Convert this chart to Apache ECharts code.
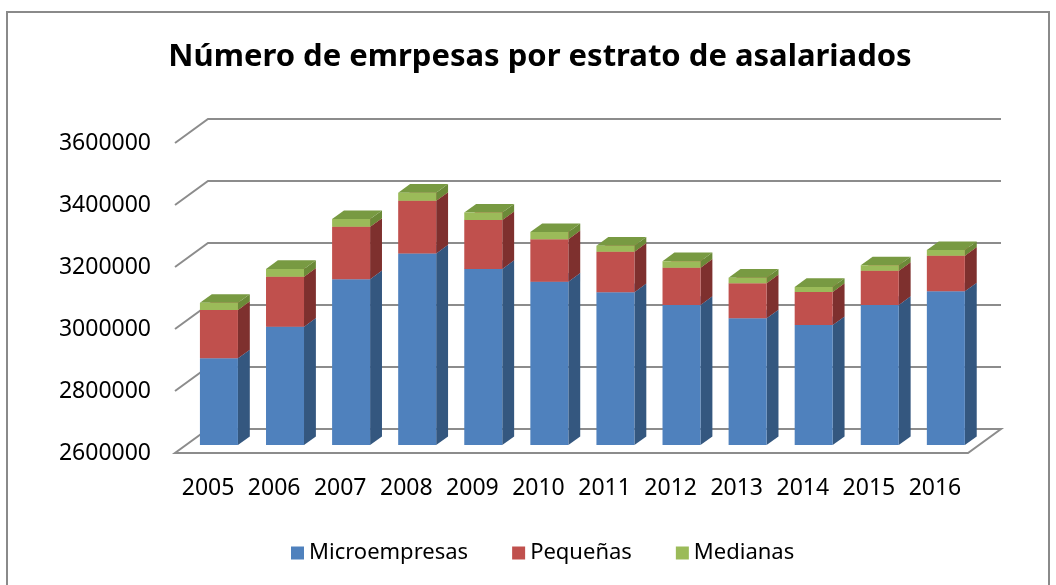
<!DOCTYPE html>
<html>
<head>
<meta charset="utf-8">
<script src="https://cdn.jsdelivr.net/npm/echarts@6/dist/echarts.min.js"></script>
<style>html,body{margin:0;padding:0;background:#fff;}#c{width:1056px;height:585px;}</style>
</head>
<body>
<div id="c"></div>
<script>
var categories = ['2005','2006','2007','2008','2009','2010','2011','2012','2013','2014','2015','2016'];
var microempresas = [2880000, 2982000, 3135000, 3218000, 3168000, 3127000, 3093000, 3052000, 3009000, 2987000, 3052000, 3096000];
var pequenas = [156000, 161000, 169000, 170000, 158000, 137000, 131000, 120000, 113000, 107000, 110000, 115000];
var medianas = [23000, 25000, 25000, 26000, 24000, 23000, 19000, 21000, 18000, 16000, 18000, 18000];
var yTicks = [2600000, 2800000, 3000000, 3200000, 3400000, 3600000];
var seriesNames = ['Microempresas', 'Pequeñas', 'Medianas'];

var Y_MIN = 2600000, Y_MAX = 3600000, Y_STEP = 200000;
var WALL_DX = 33, WALL_DY = 24;
var BAR_SHIFT = 0.33, BAR_DEPTH = 0.36, BAR_WIDTH = 0.575;
var FONT = '"Noto Sans", "DejaVu Sans", sans-serif';

var palettes = [
  {front: '#4F81BD', side: '#34577F', top: '#6A95C8', name: seriesNames[0]},
  {front: '#C0504D', side: '#7E302E', top: '#D06A67', name: seriesNames[1]},
  {front: '#9BBB59', side: '#6B8A38', top: '#789A42', name: seriesNames[2]}
];

function stackData(layers) {
  var out = [];
  var base = categories.map(function(){ return Y_MIN; });
  layers.forEach(function(arr, k) {
    var d = arr.map(function(v, i) {
      var lo = base[i];
      var hi = (k === 0) ? v : lo + v;
      base[i] = hi;
      return [i, lo, hi];
    });
    out.push(d);
  });
  return out;
}
var stacked = stackData([microempresas, pequenas, medianas]);

function barRenderer(pal) {
  return function(params, api) {
    var cat = api.value(0), lo = api.value(1), hi = api.value(2);
    var pLo = api.coord([cat, lo]);
    var pHi = api.coord([cat, hi]);
    var band = api.size([1, 0])[0];
    var w = band * BAR_WIDTH;
    var sx = WALL_DX * BAR_SHIFT, sy = WALL_DY * BAR_SHIFT;
    var ddx = WALL_DX * BAR_DEPTH, ddy = WALL_DY * BAR_DEPTH;
    var x0 = pLo[0] - w / 2 + sx;
    var x1 = x0 + w;
    var yb = pLo[1] - sy;
    var yt = pHi[1] - sy;
    return {
      type: 'group',
      children: [
        {type: 'polygon', shape: {points: [[x1, yb], [x1 + ddx, yb - ddy], [x1 + ddx, yt - ddy], [x1, yt]]},
          style: {fill: pal.side}},
        {type: 'polygon', shape: {points: [[x0, yt], [x1, yt], [x1 + ddx, yt - ddy], [x0 + ddx, yt - ddy]]},
          style: {fill: pal.top}},
        {type: 'rect', shape: {x: x0, y: yt, width: w, height: yb - yt},
          style: {fill: pal.front}}
      ]
    };
  };
}

function gridRenderer(params, api) {
  var v = api.value(1);
  var p = api.coord([0, v]);
  var cs = params.coordSys;
  var xl = cs.x, xr = cs.x + cs.width, y = p[1];
  var pts;
  if (v === Y_MIN) {
    pts = [[xl + WALL_DX, y - WALL_DY], [xl, y], [xr, y], [xr + WALL_DX, y - WALL_DY], [xl + WALL_DX, y - WALL_DY]];
  } else {
    pts = [[xl, y], [xl + WALL_DX, y - WALL_DY], [xr + WALL_DX, y - WALL_DY]];
  }
  return {type: 'polyline', shape: {points: pts}, style: {stroke: '#8c8c8c', lineWidth: 2, fill: null}};
}

var series = [{
  type: 'custom', name: 'grid', silent: true, clip: false, z: 1,
  renderItem: gridRenderer,
  data: yTicks.map(function(v){ return [0, v]; }),
  encode: {x: 0, y: 1}
}];
palettes.forEach(function(pal, k) {
  series.push({
    type: 'custom', name: pal.name, clip: false, z: 2 + k,
    renderItem: barRenderer(pal),
    itemStyle: {color: pal.front},
    data: stacked[k],
    encode: {x: 0, y: [1, 2]}
  });
});

var chart = echarts.init(document.getElementById('c'));
chart.setOption({
  backgroundColor: '#fff',
  animation: false,
  title: {
    text: 'Número de emrpesas por estrato de asalariados',
    left: 535, top: 37, textAlign: 'center',
    textStyle: {fontFamily: FONT, fontWeight: 'bold', fontSize: 31, color: '#000'}
  },
  graphic: [{
    type: 'rect', shape: {x: 7, y: 12, width: 1042, height: 620},
    style: {fill: null, stroke: '#8a8a8a', lineWidth: 2}, z: 0
  }],
  legend: {
    data: seriesNames,
    left: 286, top: 537,
    icon: 'rect', itemWidth: 13, itemHeight: 13, itemGap: 44, itemStyle: {borderWidth: 0},
    textStyle: {fontFamily: FONT, fontSize: 22, color: '#000'}
  },
  grid: {left: 175, right: 88, top: 143, bottom: 132, containLabel: false},
  xAxis: {
    type: 'category', data: categories,
    axisLine: {show: false}, axisTick: {show: false}, splitLine: {show: false},
    axisLabel: {interval: 0, fontFamily: FONT, fontSize: 23, color: '#000', margin: 24}
  },
  yAxis: {
    type: 'value', min: Y_MIN, max: Y_MAX, interval: Y_STEP,
    axisLine: {show: false}, axisTick: {show: false}, splitLine: {show: false},
    axisLabel: {fontFamily: FONT, fontSize: 23, color: '#000', margin: 24,
      formatter: function(v){ return String(v); }}
  },
  series: series
});
</script>
</body>
</html>
